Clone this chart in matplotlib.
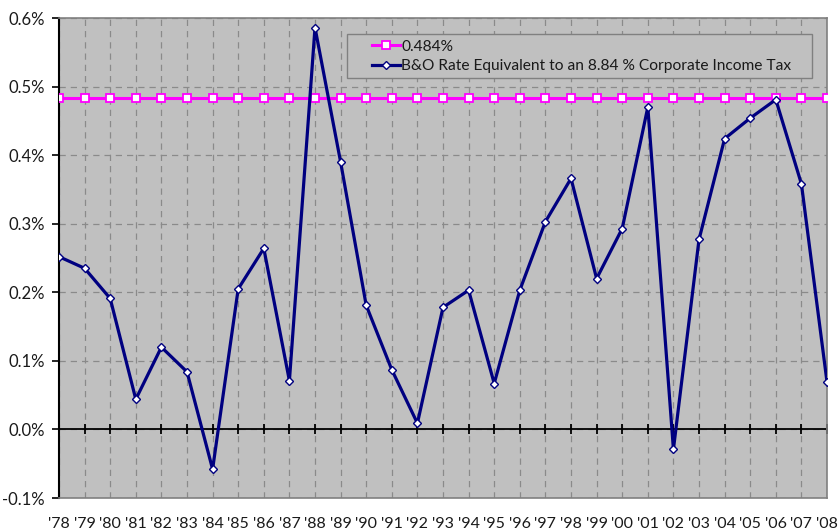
import matplotlib.pyplot as plt
from matplotlib.patches import Rectangle
import numpy as np

years = ["'78", "'79", "'80", "'81", "'82", "'83", "'84", "'85", "'86", "'87",
         "'88", "'89", "'90", "'91", "'92", "'93", "'94", "'95", "'96", "'97",
         "'98", "'99", "'00", "'01", "'02", "'03", "'04", "'05", "'06", "'07", "'08"]

# B&O rate equivalent (percent)
bo_rate = [0.252, 0.235, 0.191, 0.044, 0.120, 0.084, -0.058, 0.205, 0.264, 0.071,
           0.586, 0.390, 0.181, 0.087, 0.009, 0.178, 0.203, 0.067, 0.203, 0.303,
           0.366, 0.220, 0.293, 0.470, -0.029, 0.277, 0.424, 0.454, 0.481, 0.358, 0.069]

flat_rate = 0.484
flat_label = "0.484%"
bo_label = "B&O Rate Equivalent to an 8.84 % Corporate Income Tax"

y_ticks = [-0.1, 0.0, 0.1, 0.2, 0.3, 0.4, 0.5, 0.6]

plt.rcParams['font.family'] = ['Lato', 'DejaVu Sans']
plt.rcParams['text.color'] = '#1a1a1a'

fig = plt.figure(figsize=(8.38, 5.31), dpi=100)
ax = fig.add_axes([0.0704, 0.0621, 0.9165, 0.9040])
ax.set_facecolor('#C0C0C0')

x = np.arange(len(years))

# dashed grid
for v in y_ticks:
    ax.axhline(v, color='#8a8a8a', lw=0.9, ls=(0, (5, 4)), zorder=1)
for xi in x:
    ax.axvline(xi, color='#8a8a8a', lw=0.9, ls=(0, (5, 4)), zorder=1)

# zero line with category tick marks
ax.axhline(0, color='black', lw=1.3, zorder=2)
ax.plot(x, np.zeros(len(x)), ls='none', marker='|', ms=7.5, mew=1.3,
        color='black', zorder=2)

ax.plot(x, [flat_rate] * len(x), color='#FF00FF', lw=2.2, marker='s', ms=5.8,
        mfc='white', mec='#FF00FF', mew=1.3, label=flat_label, zorder=3)
ax.plot(x, bo_rate, color='#000080', lw=2.3, marker='D', ms=4.2,
        mfc='white', mec='#000080', mew=1.0, label=bo_label, zorder=4)

ax.set_xlim(0, len(years) - 1)
ax.set_ylim(-0.1, 0.6)
ax.set_yticks(y_ticks)
ax.set_yticklabels([f"{v:.1f}%" for v in y_ticks], fontsize=12)
ax.set_xticks(x)
ax.set_xticklabels(years, fontsize=11.5)
ax.tick_params(axis='x', length=0, pad=14, labelcolor='#1a1a1a')
ax.tick_params(axis='y', direction='out', length=5, width=1.2, color='black',
               pad=5, labelcolor='#1a1a1a')

for side in ['top', 'right', 'bottom']:
    ax.spines[side].set_color('#808080')
    ax.spines[side].set_linewidth(1.2)
ax.spines['left'].set_color('black')
ax.spines['left'].set_linewidth(1.5)

# legend box
ax.add_patch(Rectangle((0.375, 0.875), 0.605, 0.092, transform=ax.transAxes,
                       facecolor='#C0C0C0', edgecolor='#808080', lw=1.0, zorder=5))
leg = ax.legend(loc='upper left', bbox_to_anchor=(0.398, 0.971),
                fontsize=11.2, frameon=False,
                handlelength=1.8, handletextpad=0.05, borderpad=0.5,
                labelspacing=0.35, borderaxespad=0)
leg.set_zorder(6)

fig.savefig('out.png', dpi=100)
